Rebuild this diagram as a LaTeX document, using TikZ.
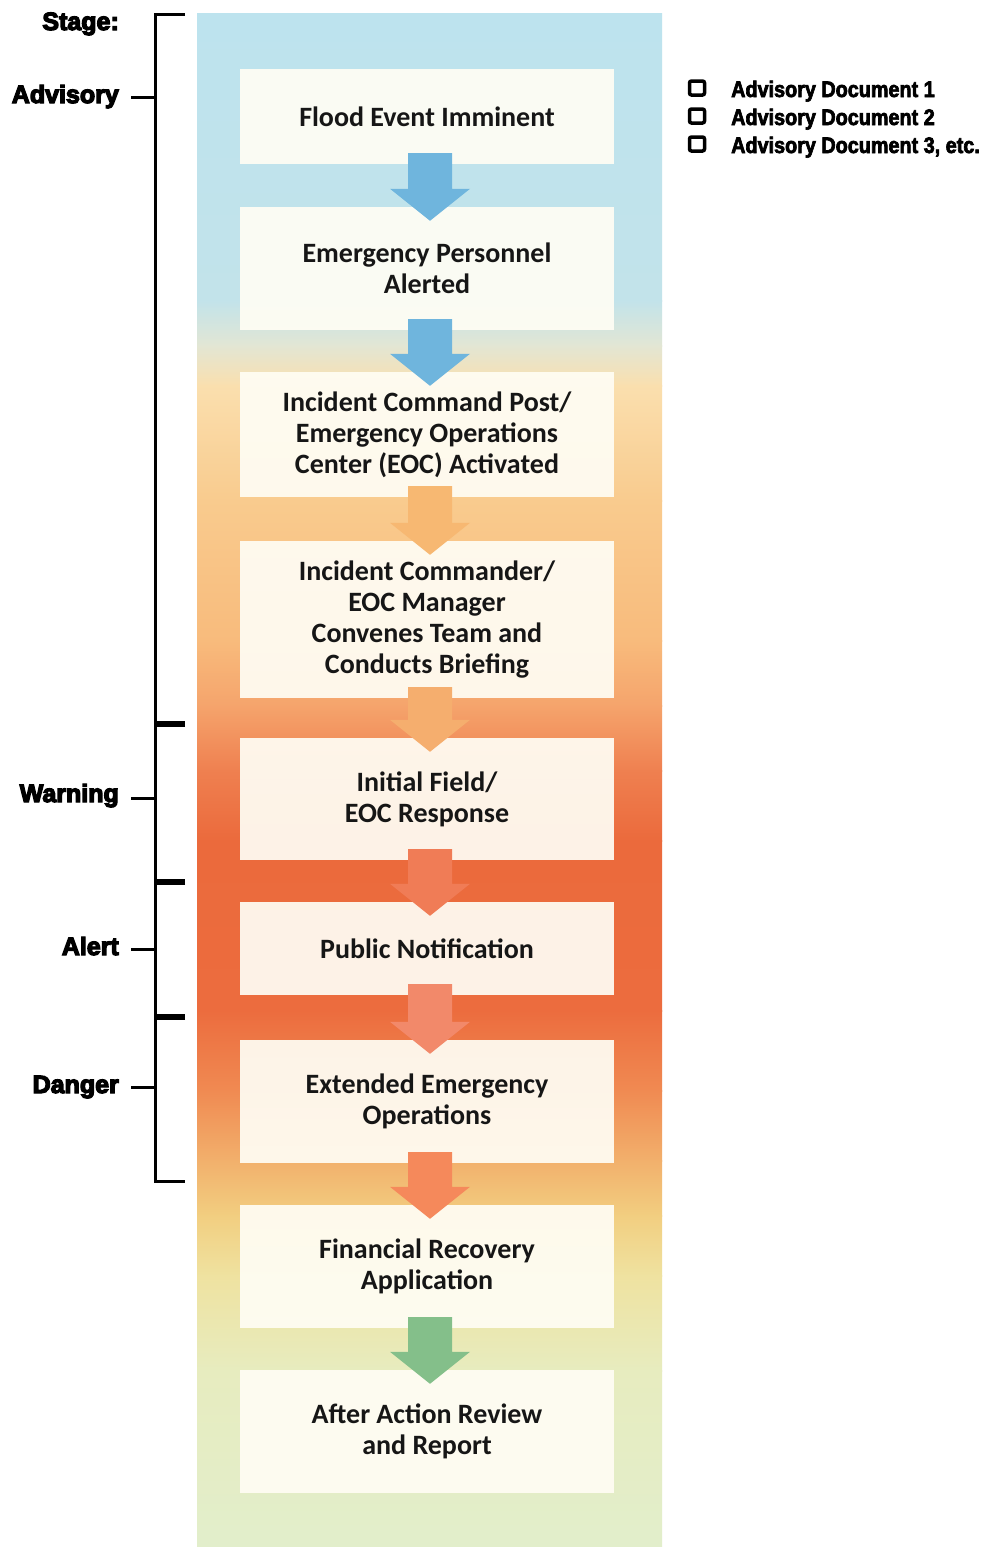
\documentclass[tikz,border=0pt]{standalone}
\usepackage{fontspec}
\setmainfont{Carlito}
\newfontfamily\stagefont{Liberation Sans}[BoldFeatures={FakeBold=5}]
\newfontfamily\docfont{Liberation Sans}[BoldFeatures={FakeStretch=0.88,FakeBold=3}]
\usetikzlibrary{calc}

% band colours, top to bottom
\definecolor{s01}{HTML}{BDE3EE}
\definecolor{s02}{HTML}{C2E3EA}
\definecolor{s03}{HTML}{E2E6D4}
\definecolor{s04}{HTML}{FADFAE}
\definecolor{s05}{HTML}{F9CB8E}
\definecolor{s06}{HTML}{F8BB7C}
\definecolor{s07}{HTML}{F5A46C}
\definecolor{s08}{HTML}{EF8050}
\definecolor{s09}{HTML}{EB6A3C}
\definecolor{s10}{HTML}{EC6C3E}
\definecolor{s11}{HTML}{F08A52}
\definecolor{s12}{HTML}{F2B06C}
\definecolor{s13}{HTML}{F2CE80}
\definecolor{s14}{HTML}{EFE2A0}
\definecolor{s15}{HTML}{E7ECBF}
\definecolor{s16}{HTML}{E2EECB}
% step and arrow colours
\definecolor{stepfill}{HTML}{FFFDF4}
\definecolor{arrBlue}{HTML}{6FB5DD}
\definecolor{arrPeach}{HTML}{F7B872}
\definecolor{arrOrange}{HTML}{F5AE6E}
\definecolor{arrRed}{HTML}{F07C56}
\definecolor{arrCoral}{HTML}{F2896A}
\definecolor{arrSalmon}{HTML}{F5895B}
\definecolor{arrGreen}{HTML}{84BF8A}
\definecolor{inkgrey}{HTML}{161616}

\tikzset{
  stepbox/.style={rectangle, fill=stepfill, fill opacity=0.93, text opacity=1,
    minimum width=374pt, inner sep=0pt, align=center, text=inkgrey,
    font=\fontsize{28}{31}\selectfont\bfseries},
  stagelabel/.style={anchor=base east, inner sep=0pt,
    font=\stagefont\fontsize{25}{30}\selectfont\bfseries},
  docitem/.style={anchor=base west, inner sep=0pt,
    font=\docfont\fontsize{22.5}{28}\selectfont\bfseries},
  checkbox/.style={rectangle, draw, line width=3.5pt, rounded corners=2pt,
    minimum width=15pt, minimum height=14pt, inner sep=0pt},
  bracket/.style={line width=3pt, line cap=butt}
}

% block arrow from the lower edge of one box to the upper edge of the next
\newcommand\stagearrow[3]{%
  \fill[#3] ($(#1.south)+(-19,-11)$) -- ($(#1.south)+(25,-11)$)
    -- ($(#2.north)+(25,-18)$) -- ($(#2.north)+(43,-18)$)
    -- ($(#2.north)+(3,14)$) -- ($(#2.north)+(-37,-18)$)
    -- ($(#2.north)+(-19,-18)$) -- cycle;}

\begin{document}
\begin{tikzpicture}[x=1pt, y=-1pt]
\useasboundingbox (0,0) rectangle (1001,1547);
\fill[white] (0,0) rectangle (1001,1547);

% graded band behind the steps
\shade[top color=s01, bottom color=s02] (197,13) rectangle (662,301);
\shade[top color=s02, bottom color=s03] (197,300) rectangle (662,346);
\shade[top color=s03, bottom color=s04] (197,345) rectangle (662,386);
\shade[top color=s04, bottom color=s05] (197,385) rectangle (662,501);
\shade[top color=s05, bottom color=s06] (197,500) rectangle (662,641);
\shade[top color=s06, bottom color=s07] (197,640) rectangle (662,706);
\shade[top color=s07, bottom color=s08] (197,705) rectangle (662,771);
\shade[top color=s08, bottom color=s09] (197,770) rectangle (662,841);
\shade[top color=s09, bottom color=s10] (197,840) rectangle (662,1011);
\shade[top color=s10, bottom color=s11] (197,1010) rectangle (662,1091);
\shade[top color=s11, bottom color=s12] (197,1090) rectangle (662,1161);
\shade[top color=s12, bottom color=s13] (197,1160) rectangle (662,1216);
\shade[top color=s13, bottom color=s14] (197,1215) rectangle (662,1276);
\shade[top color=s14, bottom color=s15] (197,1275) rectangle (662,1371);
\shade[top color=s15, bottom color=s16] (197,1370) rectangle (662,1547);

% steps
\node[stepbox, minimum height=95pt]  (b1) at (427,116.5) {Flood Event Imminent};
\node[stepbox, minimum height=123pt] (b2) at (427,268.5) {Emergency Personnel\\Alerted};
\node[stepbox, minimum height=125pt] (b3) at (427,434.5) {Incident Command Post/\\Emergency Operations\\Center (EOC) Activated};
\node[stepbox, minimum height=157pt] (b4) at (427,619.5) {Incident Commander/\\EOC Manager\\Convenes Team and\\Conducts Briefing};
\node[stepbox, minimum height=122pt] (b5) at (427,799) {Initial Field/\\EOC Response};
\node[stepbox, minimum height=93pt]  (b6) at (427,948.5) {Public Notification};
\node[stepbox, minimum height=123pt] (b7) at (427,1101.5) {Extended Emergency\\Operations};
\node[stepbox, minimum height=123pt] (b8) at (427,1266.5) {Financial Recovery\\Application};
\node[stepbox, minimum height=123pt] (b9) at (427,1431.5) {After Action Review\\and Report};

% arrows between steps
\stagearrow{b1}{b2}{arrBlue}
\stagearrow{b2}{b3}{arrBlue}
\stagearrow{b3}{b4}{arrPeach}
\stagearrow{b4}{b5}{arrOrange}
\stagearrow{b5}{b6}{arrRed}
\stagearrow{b6}{b7}{arrCoral}
\stagearrow{b7}{b8}{arrSalmon}
\stagearrow{b8}{b9}{arrGreen}

% stage brackets
\draw[bracket] (185,14) -- (155,14) -- (155,722) -- (185,722);
\draw[bracket] (185,725) -- (155,725) -- (155,880) -- (185,880);
\draw[bracket] (185,883) -- (155,883) -- (155,1015) -- (185,1015);
\draw[bracket] (185,1018) -- (155,1018) -- (155,1181) -- (185,1181);

% stage labels
\node[stagelabel] (stage) at (119,30) {Stage:};
\node[stagelabel] (adv) at (119,103) {Advisory};
\node[stagelabel] (warn) at (119,802) {Warning};
\node[stagelabel] (alert) at (119,955) {Alert};
\node[stagelabel] (dang) at (119,1093) {Danger};
\draw[bracket] (131,97) -- (154,97);
\draw[bracket] (131,798) -- (154,798);
\draw[bracket] (131,949) -- (154,949);
\draw[bracket] (131,1087) -- (154,1087);

% advisory documents
\node[checkbox] (c1) at (697,88) {};
\node[checkbox] (c2) at (697,116) {};
\node[checkbox] (c3) at (697,144) {};
\node[docitem] (d1) at (731,97) {Advisory Document 1};
\node[docitem] (d2) at (731,125) {Advisory Document 2};
\node[docitem] (d3) at (731,153) {Advisory Document 3, etc.};
\end{tikzpicture}
\end{document}
